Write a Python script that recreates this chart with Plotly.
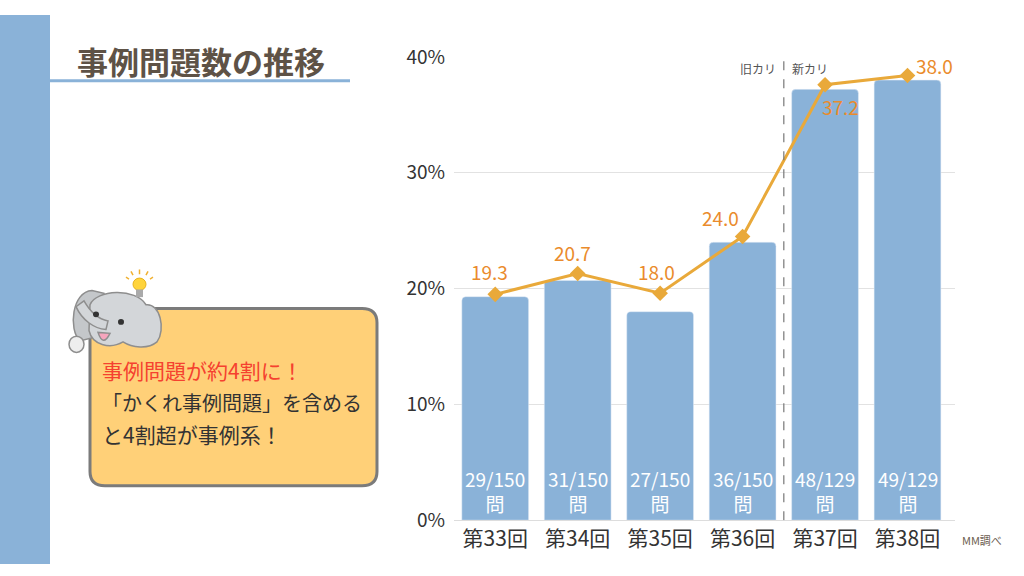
import plotly.graph_objects as go

W, H = 1024, 576

# data
categories = ["第33回", "第34回", "第35回", "第36回", "第37回", "第38回"]
rate_pct = [19.3, 20.7, 18.0, 24.0, 37.2, 38.0]        # bar heights / labels
line_drawn = [19.5, 21.3, 19.6, 24.5, 37.6, 38.4]      # where the line markers sit
case_counts = ["29/150", "31/150", "27/150", "36/150", "48/129", "49/129"]
y_ticks = [0, 10, 20, 30, 40]
y_tick_labels = ["0%", "10%", "20%", "30%", "40%"]

BLUE = "#8ab2d8"
GOLD = "#e9a93a"
ORANGE = "#ea8b2c"
BROWN = "#5e5246"
FONT = "Noto Sans CJK JP"


def px(x, y):
    """pixel position -> paper coords"""
    return x / W, 1 - y / H


def path(cmds):
    """build an svg path in paper coords from (cmd, [x, y, ...]) pieces"""
    out = []
    for c, pts in cmds:
        s = c
        for i in range(0, len(pts), 2):
            xx, yy = px(pts[i], pts[i + 1])
            s += f" {xx:.5f},{yy:.5f}"
        out.append(s)
    return " ".join(out) + " Z"


def rect(x0, y0, x1, y1, **kw):
    a, b = px(x0, y1)
    c, d = px(x1, y0)
    return dict(type="rect", xref="paper", yref="paper", x0=a, y0=b, x1=c, y1=d, **kw)


def circ(x0, y0, x1, y1, **kw):
    d = rect(x0, y0, x1, y1, **kw)
    d["type"] = "circle"
    return d


def seg(x0, y0, x1, y1, **kw):
    a, b = px(x0, y0)
    c, d = px(x1, y1)
    return dict(type="line", xref="paper", yref="paper", x0=a, y0=b, x1=c, y1=d, **kw)


def rounded_box(x0, y0, x1, y1, r):
    return path([
        ("M", [x0 + r, y0]), ("L", [x1 - r, y0]), ("Q", [x1, y0, x1, y0 + r]),
        ("L", [x1, y1 - r]), ("Q", [x1, y1, x1 - r, y1]),
        ("L", [x0 + r, y1]), ("Q", [x0, y1, x0, y1 - r]),
        ("L", [x0, y0 + r]), ("Q", [x0, y0, x0 + r, y0]),
    ])


fig = go.Figure()

fig.add_trace(go.Bar(
    x=categories, y=rate_pct,
    marker=dict(color=BLUE, cornerradius=4),
    hoverinfo="skip",
))

fig.add_trace(go.Scatter(
    x=categories, y=line_drawn, mode="lines+markers",
    line=dict(color=GOLD, width=3),
    marker=dict(symbol="diamond", size=12, color=GOLD),
    hoverinfo="skip",
))

annotations = []

# question counts at the foot of each bar
for cat, cnt in zip(categories, case_counts):
    annotations.append(dict(
        x=cat, y=0, xref="x", yref="y", text=f"{cnt}<br>問", showarrow=False,
        yanchor="bottom", yshift=1,
        font=dict(color="white", size=19, family=FONT),
    ))

# value labels next to the line markers
label_shift = [(-6, 23), (-5, 21), (-4, 22), (-22, 19), (15, -22), (27, 10)]
for cat, v, pos, (dx, dy) in zip(categories, rate_pct, line_drawn, label_shift):
    annotations.append(dict(
        x=cat, y=pos, xref="x", yref="y", text=f"{v:.1f}", showarrow=False,
        xshift=dx, yshift=dy, font=dict(color=ORANGE, size=19, family=FONT),
    ))

annotations += [
    dict(x=3.5, y=39.0, xref="x", yref="y", text="旧カリ", showarrow=False,
         xanchor="right", xshift=-6, font=dict(size=12, color="#555", family=FONT)),
    dict(x=3.5, y=39.0, xref="x", yref="y", text="新カリ", showarrow=False,
         xanchor="left", xshift=6, font=dict(size=12, color="#555", family=FONT)),
]


def paper_text(x, y, text, size, color, anchor="left", bold=False):
    xx, yy = px(x, y)
    if bold:
        text = f"<b>{text}</b>"
    return dict(x=xx, y=yy, xref="paper", yref="paper", text=text, showarrow=False,
                xanchor=anchor, yanchor="middle",
                font=dict(size=size, color=color, family=FONT))


annotations += [
    paper_text(75, 48, "事例問題数の推移", 31, BROWN, bold=True),
    paper_text(100, 372, "事例問題が約4割に！", 21, "#f5412f"),
    paper_text(100, 407, "「かくれ事例問題」を含める", 20, "#333"),
    paper_text(100, 440, "と4割超が事例系！", 21, "#333"),
    paper_text(960, 551, "MM調べ", 11, "#6b5c4f"),
]

GREY_LINE = dict(color="#8e8e8e", width=1.5)
ELE = "#d3d6d9"
RAY = dict(color="#f0b030", width=1.5)

shapes = [
    rect(0, 0, 50, 576, fillcolor=BLUE, line_width=0),
    seg(50, 69, 350, 69, line=dict(color=BLUE, width=3)),
    dict(type="path", xref="paper", yref="paper",
         path=rounded_box(90, 308, 377, 494, 15),
         fillcolor="#ffd078", line=dict(color="#7b7b7b", width=3)),
    # elephant
    dict(type="path", xref="paper", yref="paper", fillcolor="#c4c7ca", line=GREY_LINE,
         path=path([("M", [92, 289]), ("C", [72, 290, 68, 330, 80, 342]),
                    ("L", [102, 336]), ("L", [104, 292])])),
    dict(type="path", xref="paper", yref="paper", fillcolor=ELE, line=GREY_LINE,
         path=path([("M", [90, 304]), ("C", [96, 288, 136, 286, 146, 304]),
                    ("C", [160, 302, 166, 330, 157, 343]),
                    ("C", [148, 351, 132, 349, 123, 343]),
                    ("C", [110, 351, 92, 346, 89, 331])])),
    dict(type="path", xref="paper", yref="paper", fillcolor=ELE, line=GREY_LINE,
         path=path([("M", [106, 330]), ("C", [94, 329, 82, 320, 76, 306]),
                    ("L", [84, 300]), ("C", [90, 311, 97, 319, 108, 321])])),
    circ(93, 311, 99, 317, fillcolor="#333", line_width=0),
    circ(118, 319, 124, 325, fillcolor="#333", line_width=0),
    dict(type="path", xref="paper", yref="paper", fillcolor="#f6a5bd", line=GREY_LINE,
         path=path([("M", [98, 333]), ("Q", [103, 349, 110, 334])])),
    circ(69, 337, 84, 354, fillcolor="#eeeeee", line=GREY_LINE),
    # light bulb
    circ(133, 276, 146, 289, fillcolor="#ffd43b", line=dict(color="#e8b21a", width=1)),
    rect(136, 288, 143, 296, fillcolor="#aaaaaa", line_width=0),
    seg(139.5, 267, 139.5, 272, line=RAY),
    seg(131, 269, 133, 273, line=RAY),
    seg(148, 269, 146, 273, line=RAY),
    seg(126, 275, 129, 277, line=RAY),
    seg(153, 275, 150, 277, line=RAY),
    # curriculum divider
    dict(type="line", xref="x", yref="y", x0=3.5, x1=3.5, y0=0, y1=39.7,
         line=dict(color="#777", width=1.2, dash="dash")),
]

fig.update_layout(
    width=W, height=H,
    margin=dict(l=0, r=0, t=0, b=0),
    paper_bgcolor="white", plot_bgcolor="white",
    showlegend=False, bargap=0.19,
    font=dict(family=FONT, color="#333"),
    xaxis=dict(domain=[454 / W, 955 / W], type="category",
               tickfont=dict(size=21, color="#333"), showline=True,
               linecolor="#dddddd", linewidth=1, ticks=""),
    yaxis=dict(domain=[(H - 530) / H, (H - 44) / H], range=[0, 40],
               tickmode="array", tickvals=y_ticks, ticktext=y_tick_labels,
               showgrid=True, gridcolor="#e2e2e2", zeroline=False, ticks="",
               ticklabelstandoff=8, tickfont=dict(size=19, color="#333")),
    shapes=shapes,
    annotations=annotations,
)

# pin the chart to the top-left corner of the page
pin = (
    "document.body.style.margin='0';"
    "document.body.style.overflow='hidden';"
    "var gd=document.getElementById('{plot_id}');"
    "gd.style.position='fixed';gd.style.left='0px';gd.style.top='0px';"
)

fig.write_html("out.html", post_script=pin, config={"displayModeBar": False})
